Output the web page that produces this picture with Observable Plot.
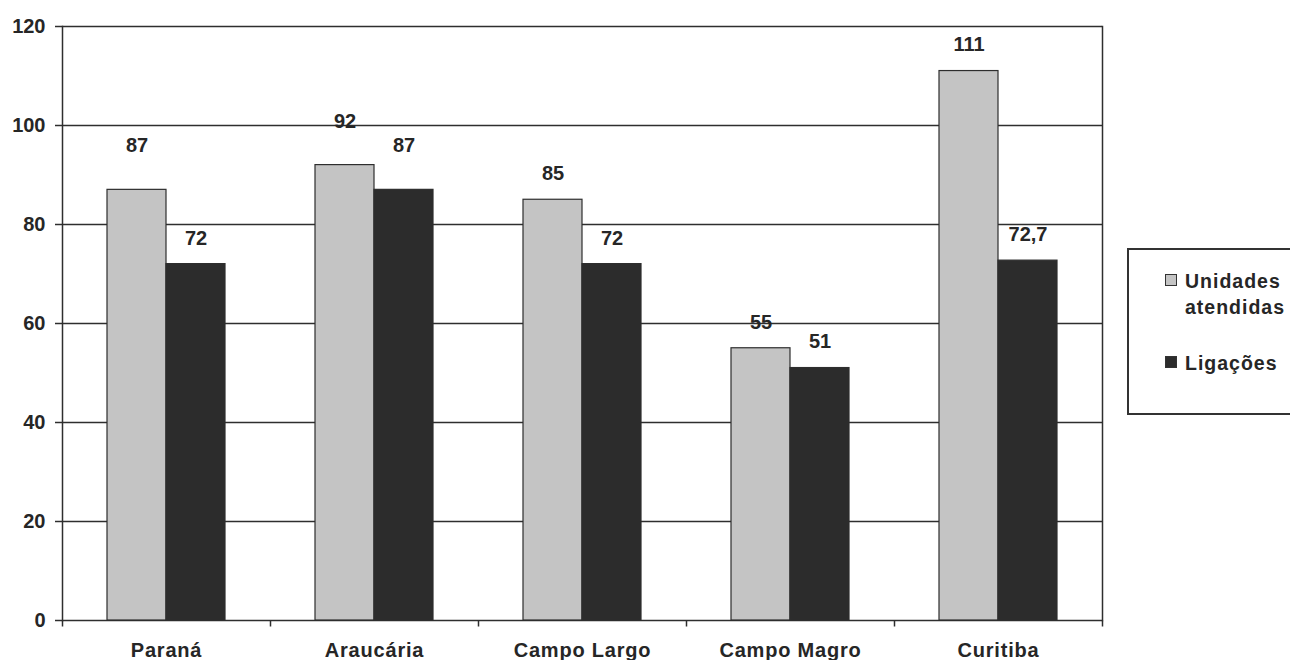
<!DOCTYPE html>
<html>
<head>
<meta charset="utf-8">
<script src="https://cdn.jsdelivr.net/npm/d3@7"></script>
<script src="https://cdn.jsdelivr.net/npm/@observablehq/plot@0.6"></script>
<style>
  html, body { margin: 0; padding: 0; background: #fff; }
  #wrap { position: relative; width: 1290px; height: 660px; overflow: hidden;
          font-family: "Liberation Sans", Arial, sans-serif; font-weight: bold; color: #262626; }
  .legend { position: absolute; left: 1127px; top: 248px; width: 220px; height: 167px;
            border: 2px solid #333; box-sizing: border-box; background: #fff; }
  .item { position: absolute; left: 36px; font-size: 19.5px; letter-spacing: 1px; line-height: 26px; }
  .sw { position: absolute; left: 0; top: 6px; width: 12px; height: 12px; border: 1px solid #333; box-sizing: border-box; }
  .lbl { position: absolute; left: 20px; white-space: nowrap; }
</style>
</head>
<body>
<div id="wrap"></div>
<script>
const categories = ["Paraná", "Araucária", "Campo Largo", "Campo Magro", "Curitiba"];
const unidades = [87, 92, 85, 55, 111];
const ligacoes = [72, 87, 72, 51, 72.7];
const series = ["Unidades atendidas", "Ligações"];
const seriesColors = ["#c4c4c4", "#2c2c2c"];
const yTicks = [0, 20, 40, 60, 80, 100, 120];
const raisedLabels = [["Paraná", "Unidades atendidas"], ["Araucária", "Unidades atendidas"], ["Araucária", "Ligações"]];

const rows = categories.flatMap((c, i) => [
  {cat: c, serie: series[0], value: unidades[i]},
  {cat: c, serie: series[1], value: ligacoes[i]}
]);
const isRaised = d => raisedLabels.some(([c, s]) => c === d.cat && s === d.serie);
const fmt = v => v.toLocaleString("pt-BR");
const tickSymbol = {draw(ctx) { ctx.moveTo(0, 0); ctx.lineTo(0, 6); }};
const ink = "#2e2e2e";

const chart = Plot.plot({
  width: 1290,
  height: 660,
  marginLeft: 62,
  marginRight: 188,
  marginTop: 26,
  marginBottom: 40,
  style: {fontFamily: "'Liberation Sans', Arial, sans-serif", fontWeight: "bold", fontSize: "20px",
          color: "#262626", background: "transparent"},
  fx: {domain: categories, padding: 0, label: null},
  x: {domain: series, paddingInner: 0, paddingOuter: 0.76, axis: null},
  y: {domain: [0, 120], label: null},
  color: {domain: series, range: seriesColors},
  marks: [
    Plot.gridY(yTicks, {stroke: ink, strokeOpacity: 1, strokeWidth: 1.5}),
    Plot.barY(rows, {fx: "cat", x: "serie", y: "value", fill: "serie", stroke: ink, strokeWidth: 1.2}),
    Plot.text(rows.filter(d => !isRaised(d)), {fx: "cat", x: "serie", y: "value", text: d => fmt(d.value), dy: -26, fill: "#262626"}),
    Plot.text(rows.filter(isRaised), {fx: "cat", x: "serie", y: "value", text: d => fmt(d.value), dy: -44, fill: "#262626"}),
    Plot.axisY(yTicks, {tickSize: 7, tickPadding: 10, stroke: ink, strokeWidth: 1.5, label: null}),
    Plot.axisFx({anchor: "bottom", tickSize: 0, tickPadding: 22, label: null, style: {letterSpacing: "0.8px"}}),
    Plot.frame({anchor: "left", facet: "super", stroke: ink, strokeWidth: 1.5}),
    Plot.frame({anchor: "right", facet: "super", stroke: ink, strokeWidth: 1.5}),
    Plot.dot([0], {frameAnchor: "bottom-left", symbol: tickSymbol, stroke: ink, fill: "none", strokeWidth: 1.5}),
    Plot.dot([0], {frameAnchor: "bottom-right", facet: "super", symbol: tickSymbol, stroke: ink, fill: "none", strokeWidth: 1.5})
  ]
});

const wrap = document.getElementById("wrap");
wrap.appendChild(chart);
chart.querySelectorAll('[aria-label="fx-axis tick label"] text').forEach(t => t.style.letterSpacing = "0.8px");

const legend = document.createElement("div");
legend.className = "legend";
const itemTops = [18, 100];
series.forEach((s, i) => {
  const it = document.createElement("div");
  it.className = "item";
  it.style.top = itemTops[i] + "px";
  const sw = document.createElement("div");
  sw.className = "sw";
  sw.style.background = seriesColors[i];
  const lb = document.createElement("div");
  lb.className = "lbl";
  lb.innerHTML = s === "Unidades atendidas" ? "Unidades<br>atendidas" : s;
  it.appendChild(sw);
  it.appendChild(lb);
  legend.appendChild(it);
});
wrap.appendChild(legend);
</script>
</body>
</html>
